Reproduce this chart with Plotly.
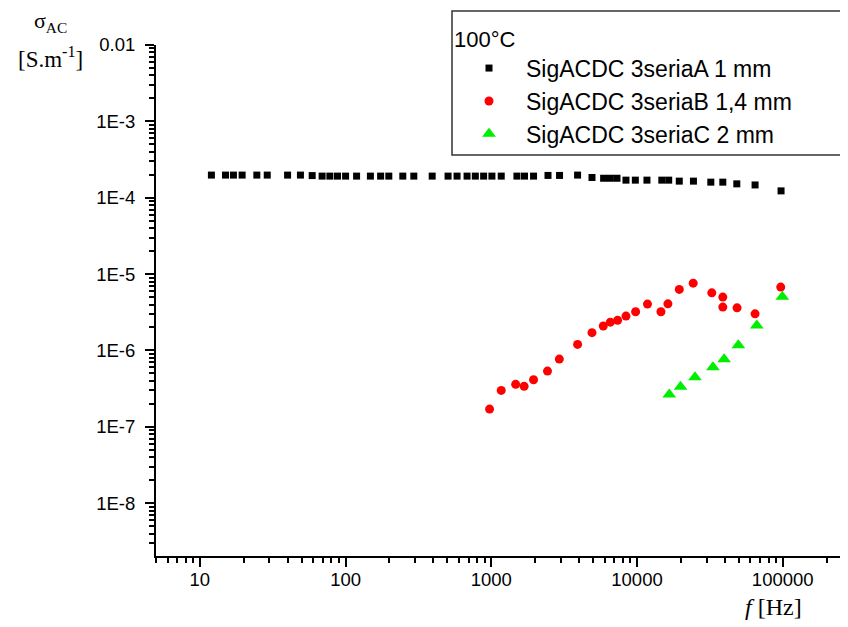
import plotly.graph_objects as go
import math

# ---- data ----
freq_A = [12, 15, 17, 19.5, 24.6, 29, 40, 49, 59, 69, 78, 88, 100, 119, 148, 174, 198, 247, 294, 393,
          505, 582, 682, 777, 886, 1010, 1170, 1500, 1690, 1950, 2450, 2940, 3910, 4910, 5900,
          6560, 7290, 8400, 9740, 11700, 14800, 16500, 19500, 24400, 32100, 38800, 48400, 64600, 97400]
sigma_A = [1.98e-4] * 8 + [1.95e-4] + [1.92e-4] * 21 + [1.96e-4, 1.96e-4, 1.98e-4, 1.84e-4,
           1.80e-4, 1.80e-4, 1.80e-4, 1.70e-4, 1.70e-4, 1.70e-4, 1.70e-4, 1.70e-4,
           1.65e-4, 1.65e-4, 1.60e-4, 1.60e-4, 1.52e-4, 1.47e-4, 1.23e-4]

freq_B = [973, 1170, 1470, 1680, 1950, 2430, 2930, 3910, 4910, 5870, 6560, 7360, 8400, 9780,
          11800, 14600, 16300, 19500, 24300, 32600, 38800, 38800, 48600, 64600, 96900]
sigma_B = [1.71e-7, 3.0e-7, 3.6e-7, 3.39e-7, 4.14e-7, 5.37e-7, 7.71e-7, 1.20e-6, 1.71e-6,
           2.09e-6, 2.35e-6, 2.48e-6, 2.82e-6, 3.21e-6, 4.05e-6, 3.21e-6, 4.08e-6, 6.31e-6,
           7.62e-6, 5.69e-6, 5.0e-6, 3.70e-6, 3.62e-6, 3.02e-6, 6.76e-6]

freq_C = [16650, 19900, 25000, 33200, 39600, 49600, 66400, 99400]
sigma_C = [2.66e-7, 3.35e-7, 4.45e-7, 6.01e-7, 7.66e-7, 1.17e-6, 2.13e-6, 5.05e-6]

names = ["SigACDC 3seriaA 1 mm", "SigACDC 3seriaB 1,4 mm", "SigACDC 3seriaC 2 mm"]
legend_title = "100°C"

x_tickvals = [10, 100, 1000, 10000, 100000]
x_ticktext = ["10", "100", "1000", "10000", "100000"]
y_tickvals = [1e-2, 1e-3, 1e-4, 1e-5, 1e-6, 1e-7, 1e-8]
y_ticktext = ["0.01", "1E-3", "1E-4", "1E-5", "1E-6", "1E-7", "1E-8"]

SANS = "Arial, Liberation Sans, sans-serif"
SERIF = "Times New Roman, Liberation Serif, serif"

fig = go.Figure()
fig.add_trace(go.Scatter(x=freq_A, y=sigma_A, mode="markers", name=names[0],
                         marker=dict(symbol="square", size=7, color="black")))
fig.add_trace(go.Scatter(x=freq_B, y=sigma_B, mode="markers", name=names[1],
                         marker=dict(symbol="circle", size=9, color="#ff0000")))
fig.add_trace(go.Scatter(x=freq_C, y=sigma_C, mode="markers", name=names[2],
                         marker=dict(symbol="triangle-up", size=12, color="#00ee00")))

axis_common = dict(
    type="log", showline=True, linecolor="black", linewidth=2, mirror=False,
    showgrid=False, zeroline=False, ticks="outside", ticklen=9, tickwidth=1.5,
    tickcolor="black", tickfont=dict(family=SANS, size=18.5, color="black"),
)

# page body has an 8px margin, so the figure is sized / placed to compensate
fig.update_layout(
    width=840, height=619,
    margin=dict(l=148, r=0, t=37, b=71, autoexpand=False),
    paper_bgcolor="white", plot_bgcolor="white",
    xaxis=dict(**axis_common, range=[math.log10(5), 5.448],
               tickmode="array", tickvals=x_tickvals, ticktext=x_ticktext,
               ticklabelstandoff=-3,
               minor=dict(ticks="outside", ticklen=5, tickwidth=1.5, tickcolor="black",
                          dtick="D1", showgrid=False)),
    yaxis=dict(**axis_common, range=[-8.691, -2],
               tickmode="array", tickvals=y_tickvals, ticktext=y_ticktext,
               ticklabelstandoff=6,
               minor=dict(ticks="outside", ticklen=5, tickwidth=1.5, tickcolor="black",
                          dtick="D1", showgrid=False)),
    showlegend=True,
    legend=dict(
        x=(452 - 156) / 692, xanchor="left",
        y=(556 - 18) / 511, yanchor="top",
        bgcolor="rgba(0,0,0,0)", borderwidth=0,
        font=dict(family=SANS, size=23, color="black"),
        title=dict(text=legend_title, font=dict(family=SANS, size=22, color="black")),
        itemwidth=64, tracegroupgap=0,
    ),
)

# legend frame
fig.add_shape(type="rect", xref="paper", yref="paper",
              x0=(452 - 156) / 692, x1=(852 - 156) / 692,
              y0=(556 - 155) / 511, y1=(556 - 11) / 511,
              line=dict(color="#333333", width=1.5), fillcolor="rgba(0,0,0,0)", layer="above")

# axis titles
fig.add_annotation(text="σ<sub>AC</sub>", xref="paper", yref="paper",
                   x=(50 - 156) / 692, y=(556 - 22) / 511, showarrow=False,
                   xanchor="center", yanchor="middle",
                   font=dict(family=SERIF, size=22, color="black"))
fig.add_annotation(text="[S.m<sup>-1</sup>]", xref="paper", yref="paper",
                   x=(50 - 156) / 692, y=(556 - 57) / 511, showarrow=False,
                   xanchor="center", yanchor="middle",
                   font=dict(family=SERIF, size=23, color="black"))
fig.add_annotation(text="<i>f</i> [Hz]", xref="paper", yref="paper",
                   x=(773 - 156) / 692, y=(556 - 607) / 511, showarrow=False,
                   xanchor="center", yanchor="middle",
                   font=dict(family=SERIF, size=24, color="black"))

fig.write_html("out.html")
